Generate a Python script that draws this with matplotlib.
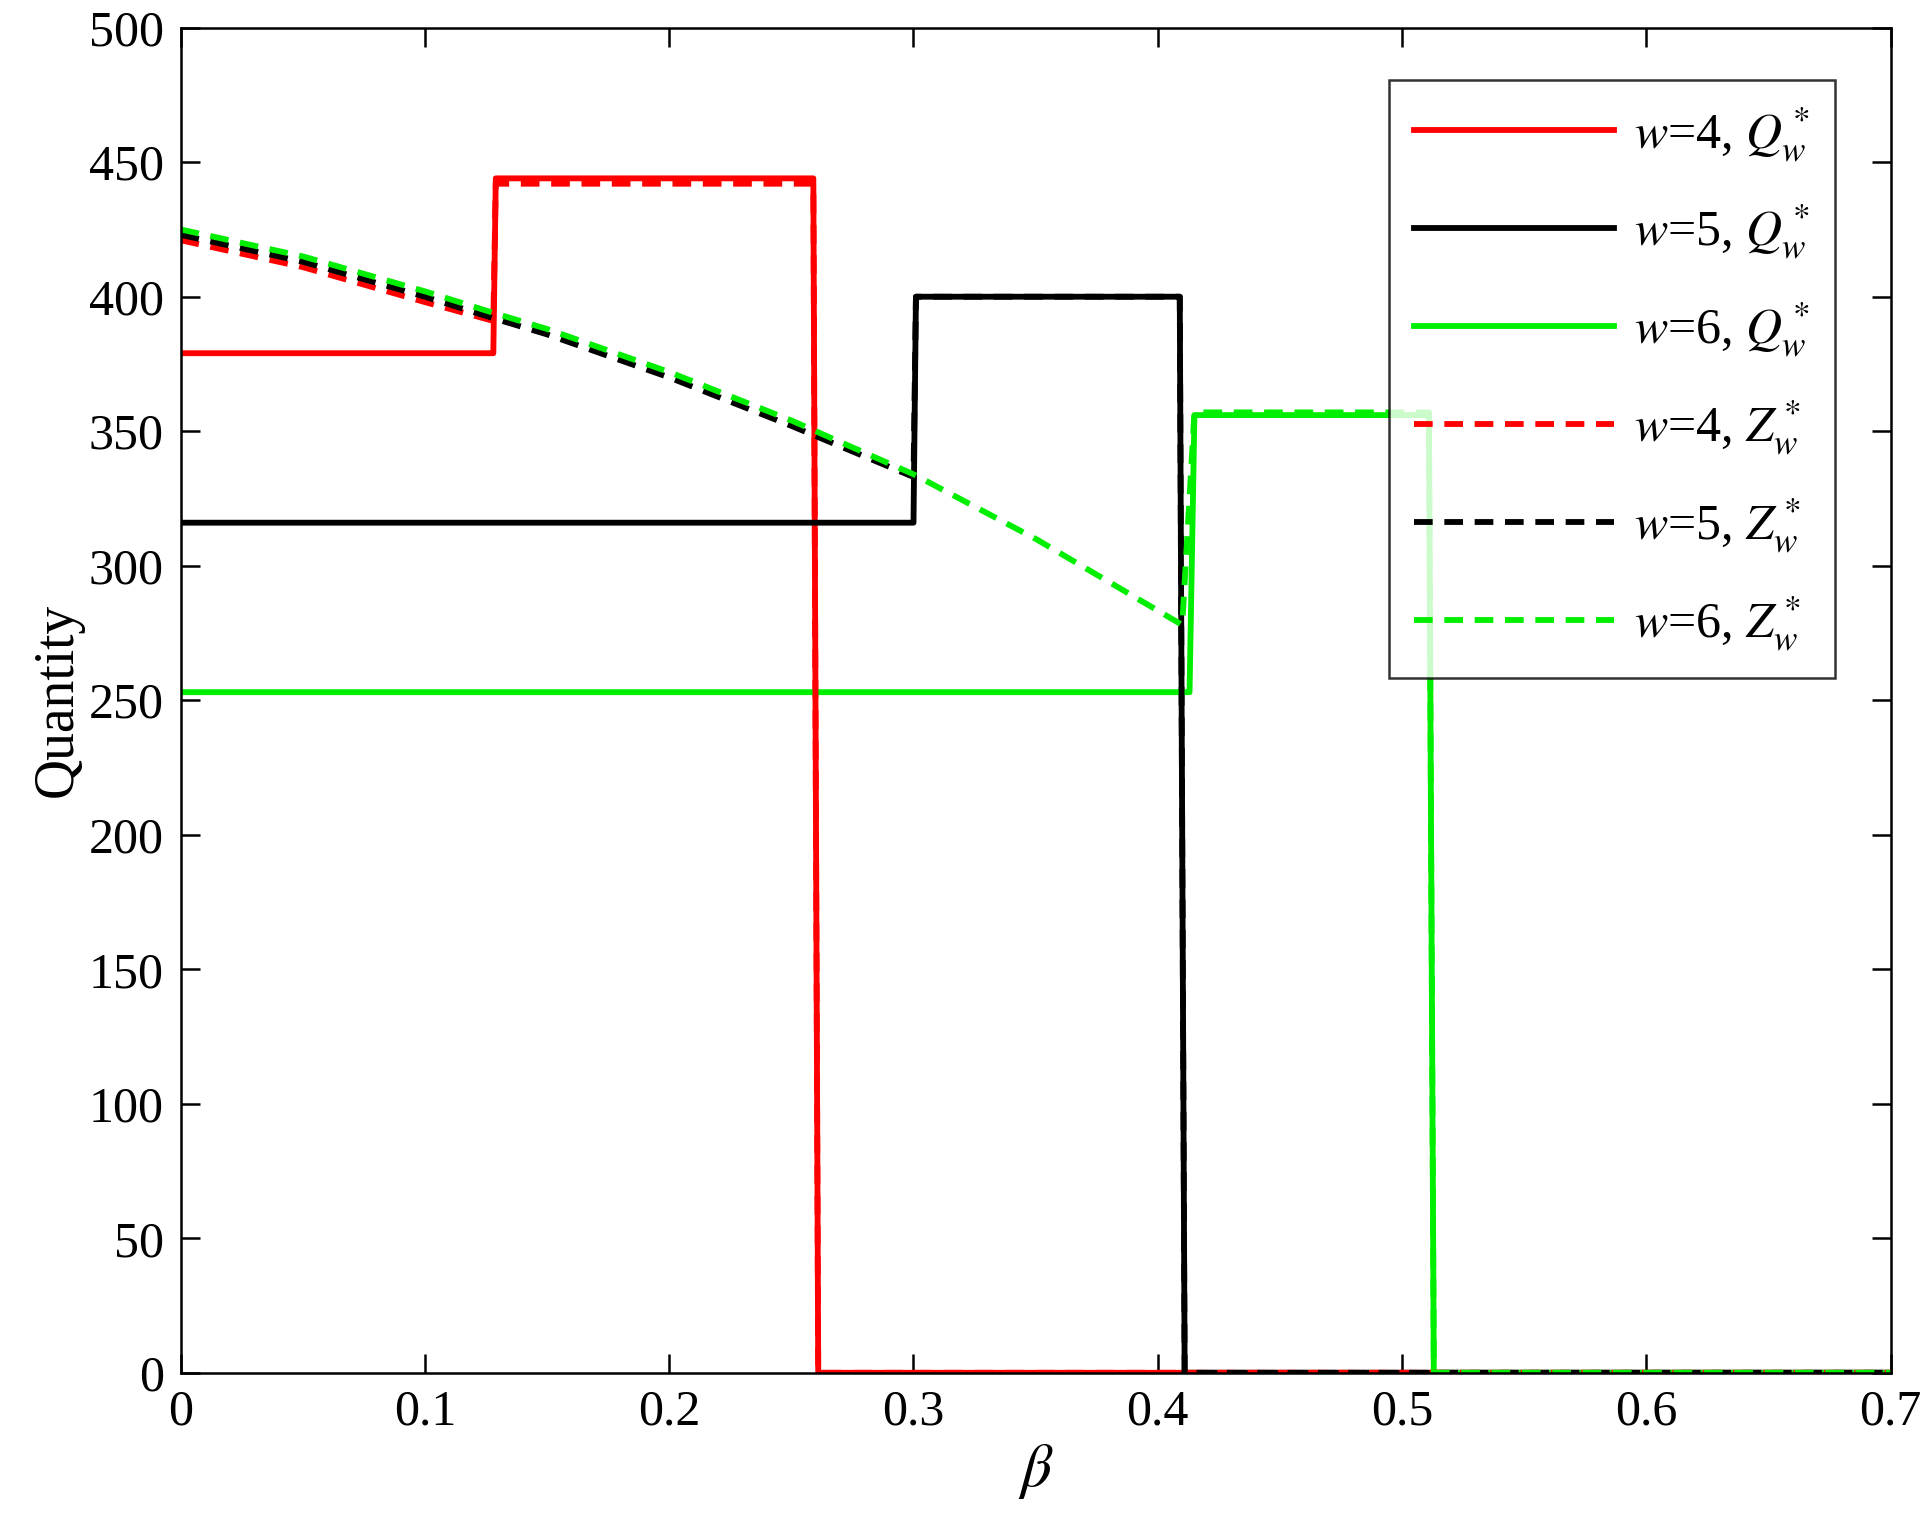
import matplotlib
matplotlib.use("Agg")
import matplotlib.pyplot as plt

plt.rcParams['font.family'] = ['Liberation Serif', 'DejaVu Serif']
plt.rcParams['mathtext.fontset'] = 'stix'

# Data
x_q4 = [0, 0.128, 0.129, 0.259, 0.261, 0.7]
q4 = [379, 379, 444, 444, 0, 0]
x_q5 = [0, 0.300, 0.301, 0.409, 0.411, 0.7]
q5 = [316, 316, 400, 400, 0, 0]
x_q6 = [0, 0.413, 0.415, 0.511, 0.513, 0.7]
q6 = [253, 253, 356, 356, 0, 0]

x_z4 = [0, 0.05, 0.1, 0.128, 0.129, 0.259, 0.261, 0.7]
z4 = [421, 411, 398, 391, 442, 442, 0, 0]
x_z5 = [0, 0.05, 0.1, 0.128, 0.15, 0.2, 0.25, 0.3, 0.301, 0.409, 0.411, 0.7]
z5 = [423, 413, 400, 392, 386, 370, 352, 333, 400, 400, 0, 0]
x_z6 = [0, 0.05, 0.1, 0.128, 0.15, 0.2, 0.25, 0.3, 0.35, 0.41, 0.415, 0.511, 0.513, 0.7]
z6 = [425, 415, 402, 394, 388, 372, 354, 334, 310, 278, 357, 357, 0, 0]

fig = plt.figure(figsize=(19.3, 15.39), dpi=100)
ax = fig.add_axes([0.0936, 0.108, 0.886, 0.874])
lw = 4.2
dash = (0, (3.2, 2.0))
ax.plot(x_q4, q4, color='#ff0000', lw=lw, label=r'$w$=4, $Q_w^*$')
ax.plot(x_q5, q5, color='black', lw=lw, label=r'$w$=5, $Q_w^*$')
ax.plot(x_q6, q6, color='#00ee00', lw=lw, label=r'$w$=6, $Q_w^*$')
ax.plot(x_z4, z4, color='#ff0000', lw=lw, ls=dash, label=r'$w$=4, $Z_w^*$')
ax.plot(x_z5, z5, color='black', lw=lw, ls=dash, label=r'$w$=5, $Z_w^*$')
ax.plot(x_z6, z6, color='#00ee00', lw=lw, ls=dash, label=r'$w$=6, $Z_w^*$')

ax.set_xlim(0, 0.7)
ax.set_ylim(0, 500)
ax.set_xticks([0, 0.1, 0.2, 0.3, 0.4, 0.5, 0.6, 0.7])
ax.set_xticklabels(['0', '0.1', '0.2', '0.3', '0.4', '0.5', '0.6', '0.7'])
ax.set_yticks(range(0, 501, 50))
ax.tick_params(direction='in', length=14, width=1.8, labelsize=36, top=True, right=True, pad=12)
for s in ax.spines.values():
    s.set_linewidth(1.8)
ax.set_xlabel(r'$\beta$', fontsize=44, labelpad=4)
ax.set_ylabel('Quantity', fontsize=40, labelpad=4)

leg = ax.legend(loc='upper right', fontsize=36, fancybox=False, edgecolor='black',
                handlelength=4.0, labelspacing=0.78, borderpad=0.5, handletextpad=0.4,
                bbox_to_anchor=(0.982, 0.98))
leg.get_frame().set_linewidth(1.8)

fig.savefig('out.png', dpi=100)
